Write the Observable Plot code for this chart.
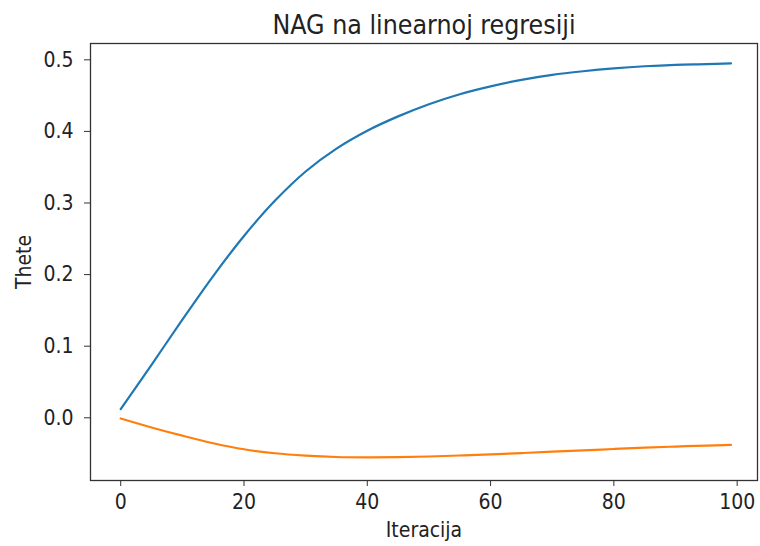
<!DOCTYPE html>
<html>
<head>
<meta charset="utf-8">
<script src="https://cdn.jsdelivr.net/npm/d3@7"></script>
<script src="https://cdn.jsdelivr.net/npm/@observablehq/plot@0.6"></script>
<style>
  html, body { margin: 0; padding: 0; background: #fff; }
  #chart { width: 760px; height: 546px; }
</style>
</head>
<body>
<div id="chart"></div>
<script>
const chartTitle = "NAG na linearnoj regresiji";
const xLabel = "Iteracija";
const yLabel = "Thete";
const iterations = [0, 5, 10, 15, 20, 25, 30, 35, 40, 45, 50, 55, 60, 65, 70, 75, 80, 85, 90, 95, 99];
const theta0 = [0.012, 0.074, 0.137, 0.198, 0.254, 0.303, 0.344, 0.376, 0.401, 0.421, 0.438, 0.452, 0.463, 0.472, 0.479, 0.484, 0.488, 0.491, 0.493, 0.494, 0.495];
const theta1 = [-0.001, -0.0135, -0.025, -0.0355, -0.044, -0.0495, -0.0528, -0.0548, -0.0553, -0.0550, -0.0541, -0.0527, -0.0511, -0.0493, -0.0474, -0.0455, -0.0436, -0.0418, -0.0402, -0.0388, -0.0378];
const seriesNames = ["theta0", "theta1"];
const seriesColors = ["#1f77b4", "#ff7f0e"];
const xTicks = [0, 20, 40, 60, 80, 100];
const yTicks = [0.0, 0.1, 0.2, 0.3, 0.4, 0.5];

const rows = [];
iterations.forEach((it, i) => {
  rows.push({iter: it, value: theta0[i], series: seriesNames[0]});
  rows.push({iter: it, value: theta1[i], series: seriesNames[1]});
});

const font = "'DejaVu Sans Condensed', 'DejaVu Sans', sans-serif";

const chart = Plot.plot({
  width: 760,
  height: 546,
  marginLeft: 90,
  marginRight: 3,
  marginTop: 43,
  marginBottom: 66,
  style: {fontFamily: font, fontSize: "21px", color: "#222", background: "#fff"},
  x: {domain: [-4.9, 103.3]},
  y: {domain: [-0.0876, 0.5228]},
  color: {domain: seriesNames, range: seriesColors},
  marks: [
    Plot.frame({stroke: "#333", strokeWidth: 1.3}),
    Plot.axisX({ticks: xTicks, tickSize: 6, tickPadding: 8, fontSize: 21, stroke: "#333",
      label: xLabel, labelAnchor: "center", labelOffset: 56, labelArrow: "none"}),
    Plot.axisY({ticks: yTicks, tickSize: 6, tickPadding: 11, fontSize: 21, stroke: "#333",
      tickFormat: d3.format(".1f"),
      label: yLabel, labelAnchor: "center", labelOffset: 74, labelArrow: "none"}),
    Plot.line(rows, {x: "iter", y: "value", z: "series", stroke: "series", strokeWidth: 2.2, curve: "catmull-rom"}),
    Plot.text([chartTitle], {text: d => d, frameAnchor: "top", dy: -18, lineAnchor: "middle", fontSize: 26.5, fill: "#222"})
  ]
});
document.getElementById("chart").appendChild(chart);
</script>
</body>
</html>
